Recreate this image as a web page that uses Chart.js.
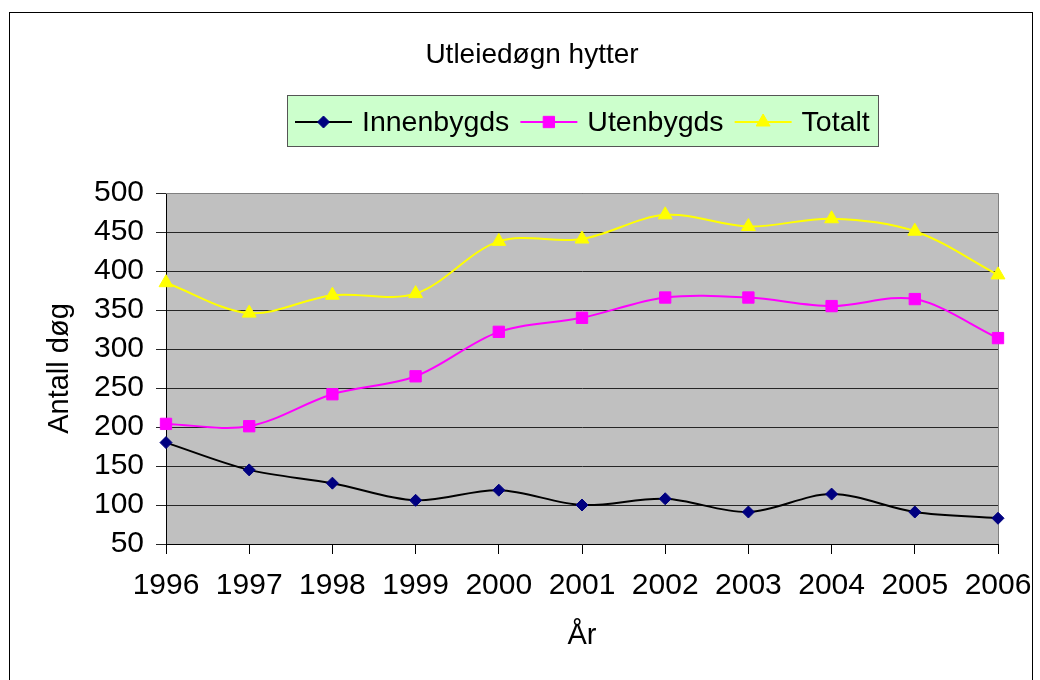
<!DOCTYPE html>
<html>
<head>
<meta charset="utf-8">
<script src="https://cdn.jsdelivr.net/npm/chart.js@4.4.1/dist/chart.umd.min.js"></script>
<style>
  body { margin: 0; background: #fff; }
  #wrap { width: 1040px; height: 680px; }
</style>
</head>
<body>
<div id="wrap"><canvas id="chart"></canvas></div>
<script>
// data
const years = ["1996", "1997", "1998", "1999", "2000", "2001", "2002", "2003", "2004", "2005", "2006"];
const innenbygds = [180, 145, 128, 106, 119, 100, 108, 91, 114, 91, 83];
const utenbygds = [204, 201, 242, 265, 322, 340, 366, 366, 355, 364, 314];
const totalt = [385, 346, 369, 371, 438, 441, 472, 457, 467, 451, 395];
const yTicks = [50, 100, 150, 200, 250, 300, 350, 400, 450, 500];

const FONT = "'Liberation Sans', Arial, sans-serif";
Chart.defaults.font.family = FONT;
Chart.defaults.color = "#000";

// frame, title and legend box
const frame = {
  id: "frame",
  beforeDraw(chart) {
    const ctx = chart.ctx;
    const a = chart.chartArea;
    ctx.save();
    ctx.fillStyle = "#fff";
    ctx.fillRect(0, 0, chart.width, chart.height);
    ctx.strokeStyle = "#000";
    ctx.lineWidth = 1;
    ctx.strokeRect(9.5, 12.5, 1023, 680);
    ctx.fillStyle = "#c0c0c0";
    ctx.fillRect(a.left, a.top, a.right - a.left, a.bottom - a.top);
    ctx.restore();
  },
  beforeDatasetsDraw(chart) {
    const ctx = chart.ctx;
    const a = chart.chartArea;
    ctx.save();
    ctx.strokeStyle = "#808080";
    ctx.lineWidth = 1;
    ctx.beginPath();
    ctx.moveTo(a.left, a.top + 0.5);
    ctx.lineTo(a.right + 0.5, a.top + 0.5);
    ctx.lineTo(a.right + 0.5, a.bottom);
    ctx.stroke();
    ctx.restore();
  },
  afterDraw(chart) {
    const ctx = chart.ctx;
    ctx.save();
    // title
    ctx.fillStyle = "#000";
    ctx.font = "28px " + FONT;
    ctx.textAlign = "center";
    ctx.textBaseline = "middle";
    ctx.fillText("Utleiedøgn hytter", 532, 55);

    // legend
    const bx = 287, by = 95, bw = 591, bh = 51;
    ctx.fillStyle = "#ccffcc";
    ctx.fillRect(bx, by, bw, bh);
    ctx.strokeStyle = "#555";
    ctx.strokeRect(bx + 0.5, by + 0.5, bw, bh);

    ctx.font = "28.5px " + FONT;
    ctx.textAlign = "left";
    let x = 295;
    const y = 122;
    chart.data.datasets.forEach(ds => {
      ctx.strokeStyle = ds.borderColor;
      ctx.lineWidth = 2;
      ctx.beginPath();
      ctx.moveTo(x, y);
      ctx.lineTo(x + 57, y);
      ctx.stroke();
      ctx.fillStyle = ds.pointBackgroundColor;
      ctx.strokeStyle = ds.pointBorderColor;
      ctx.lineWidth = 1;
      Chart.helpers.drawPoint(ctx, {
        pointStyle: ds.pointStyle, rotation: 0,
        radius: ds.pointRadius, borderWidth: 1
      }, x + 28.5, y);
      x += 67;
      ctx.fillStyle = "#000";
      ctx.fillText(ds.label, x, y + 1);
      x += ctx.measureText(ds.label).width + 11;
    });
    ctx.restore();
  }
};

new Chart(document.getElementById("chart"), {
  type: "line",
  data: {
    labels: years,
    datasets: [
      {
        label: "Innenbygds",
        data: innenbygds,
        borderColor: "#000000",
        pointBackgroundColor: "#000080",
        pointBorderColor: "#000080",
        pointStyle: "rectRot",
        pointRadius: 6,
      },
      {
        label: "Utenbygds",
        data: utenbygds,
        borderColor: "#ff00ff",
        pointBackgroundColor: "#ff00ff",
        pointBorderColor: "#ff00ff",
        pointStyle: "rect",
        pointRadius: 8,
      },
      {
        label: "Totalt",
        data: totalt,
        borderColor: "#ffff00",
        pointBackgroundColor: "#ffff00",
        pointBorderColor: "#ffff00",
        pointStyle: "triangle",
        pointRadius: 8,
      },
    ],
  },
  options: {
    responsive: true,
    maintainAspectRatio: false,
    animation: false,
    layout: { padding: { top: 193, right: 42, left: 0, bottom: 0 } },
    elements: {
      line: { borderWidth: 2, tension: 0.33, fill: false },
      point: { borderWidth: 1 },
    },
    datasets: { line: { clip: false } },
    plugins: {
      legend: { display: false },
      title: { display: false },
      tooltip: { enabled: false },
    },
    scales: {
      x: {
        offset: false,
        afterFit(scale) {
          scale.height = 136;
          scale.paddingLeft = 0;
          scale.paddingRight = 0;
        },
        grid: { drawOnChartArea: false, drawTicks: true, tickLength: 10, color: "#000" },
        border: { color: "#000", width: 1 },
        ticks: { font: { size: 30 }, padding: 14, maxRotation: 0, autoSkip: false },
        title: { display: true, text: "År", font: { size: 29 }, padding: { top: 0, bottom: 27 } },
      },
      y: {
        min: 50,
        max: 500,
        afterBuildTicks(scale) { scale.ticks = yTicks.map(v => ({ value: v })); },
        afterFit(scale) { scale.width = 166; },
        grid: { color: "#262626", tickLength: 10, drawTicks: true },
        border: { color: "#000", width: 1 },
        ticks: { font: { size: 30 }, padding: 12 },
        title: { display: true, text: "Antall døg", font: { size: 29 }, padding: { top: 43, bottom: 0 } },
      },
    },
  },
  plugins: [frame],
});
</script>
</body>
</html>
